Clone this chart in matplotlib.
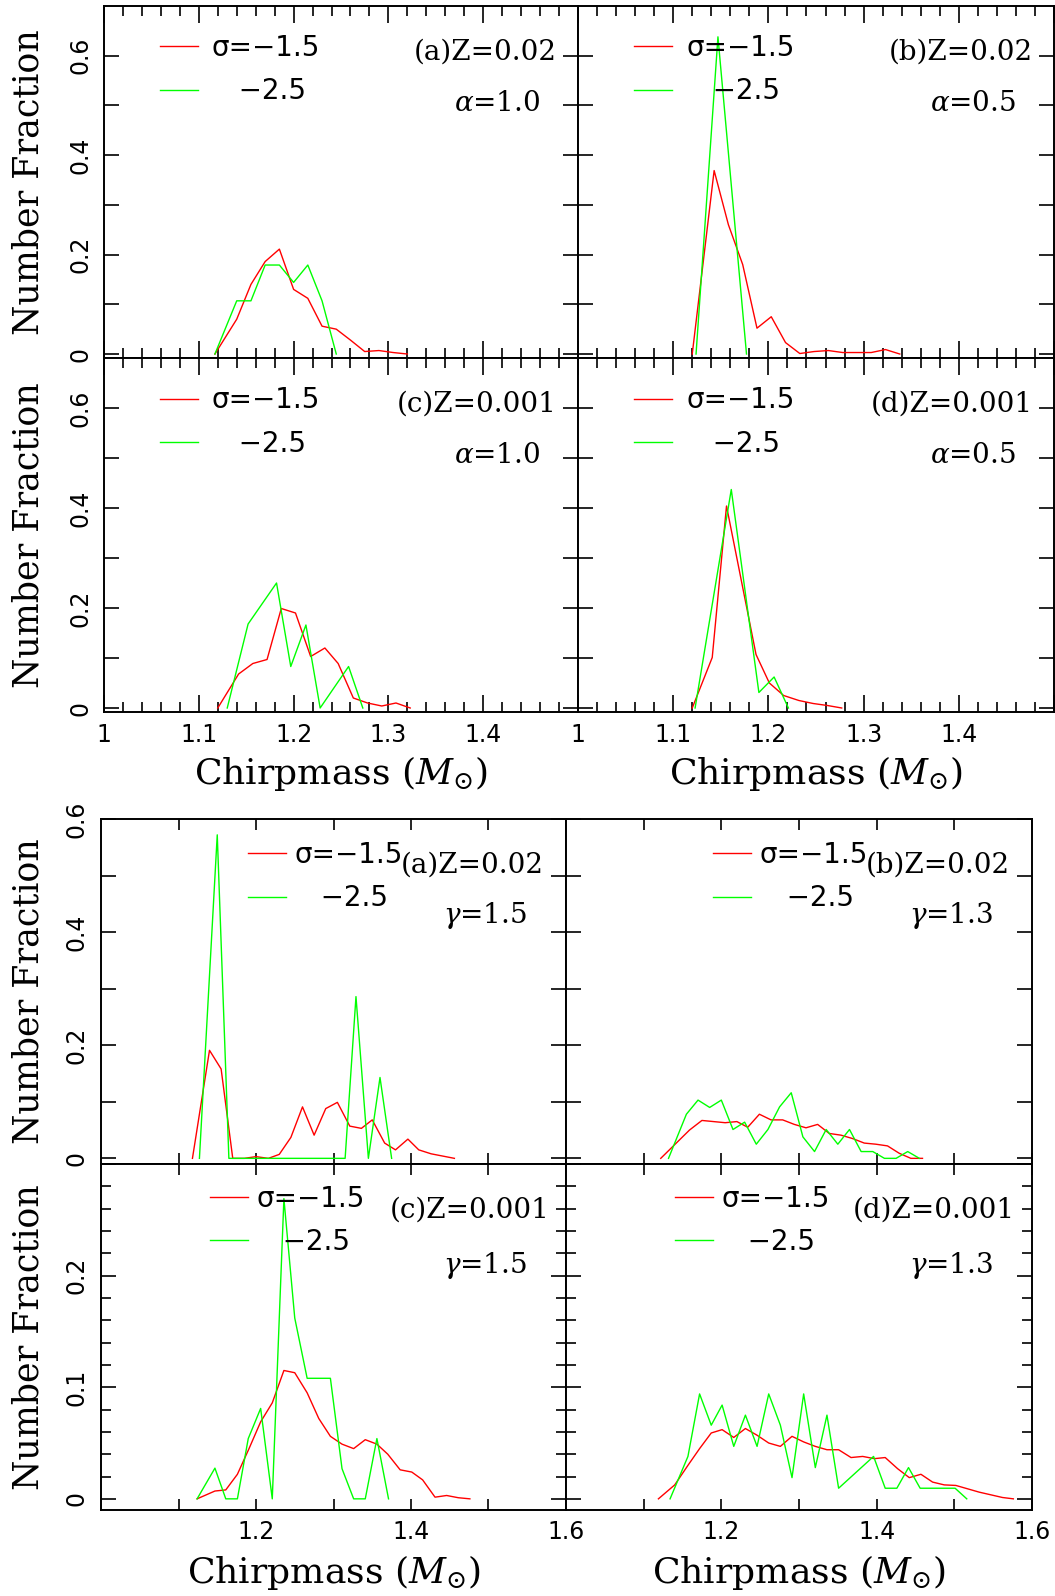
import matplotlib
matplotlib.use("Agg")
import matplotlib.pyplot as plt

plt.rcParams["mathtext.fontset"] = "dejavuserif"
plt.rcParams["font.family"] = ["DejaVu Sans"]

RED = "#ff0000"
GREEN = "#00ff00"

# ---- common envelope parameter alpha (upper block) ----
alpha_a_red_x = [1.117, 1.140, 1.155, 1.170, 1.185, 1.200, 1.215, 1.230, 1.245, 1.260, 1.275, 1.290, 1.305, 1.320]
alpha_a_red_y = [0.0, 0.070, 0.140, 0.186, 0.211, 0.130, 0.112, 0.056, 0.050, 0.028, 0.005, 0.007, 0.003, 0.0]
alpha_a_grn_x = [1.117, 1.140, 1.155, 1.170, 1.185, 1.200, 1.215, 1.230, 1.245]
alpha_a_grn_y = [0.0, 0.107, 0.107, 0.179, 0.179, 0.144, 0.179, 0.107, 0.0]

alpha_b_red_x = [1.120, 1.143, 1.158, 1.173, 1.188, 1.203, 1.218, 1.233, 1.248, 1.263, 1.278, 1.293, 1.308, 1.323, 1.338]
alpha_b_red_y = [0.0, 0.369, 0.260, 0.180, 0.052, 0.075, 0.023, 0.001, 0.005, 0.007, 0.003, 0.003, 0.003, 0.009, 0.0]
alpha_b_grn_x = [1.124, 1.147, 1.177]
alpha_b_grn_y = [0.0, 0.638, 0.0]

alpha_c_red_x = [1.120, 1.142, 1.157, 1.172, 1.187, 1.202, 1.218, 1.233, 1.247, 1.263, 1.278, 1.293, 1.308, 1.323]
alpha_c_red_y = [0.0, 0.068, 0.089, 0.097, 0.199, 0.190, 0.103, 0.120, 0.089, 0.020, 0.010, 0.004, 0.010, 0.0]
alpha_c_grn_x = [1.130, 1.152, 1.182, 1.197, 1.213, 1.228, 1.258, 1.273]
alpha_c_grn_y = [0.0, 0.168, 0.250, 0.083, 0.166, 0.0, 0.083, 0.0]

alpha_d_red_x = [1.120, 1.141, 1.156, 1.187, 1.201, 1.216, 1.232, 1.247, 1.262, 1.277]
alpha_d_red_y = [0.0, 0.101, 0.404, 0.107, 0.050, 0.025, 0.015, 0.009, 0.005, 0.0]
alpha_d_grn_x = [1.123, 1.161, 1.190, 1.206, 1.221]
alpha_d_grn_y = [0.0, 0.437, 0.031, 0.062, 0.0]

# ---- gamma prescription (lower block) ----
gamma_a_red_x = [1.118, 1.140, 1.155, 1.170, 1.185, 1.200, 1.216, 1.230, 1.245, 1.260, 1.275, 1.290,
                 1.305, 1.321, 1.336, 1.350, 1.366, 1.380, 1.396, 1.410, 1.426, 1.441, 1.456]
gamma_a_red_y = [0.0, 0.191, 0.158, 0.0, 0.0, 0.003, 0.0, 0.007, 0.037, 0.091, 0.041, 0.088,
                 0.099, 0.057, 0.053, 0.068, 0.027, 0.015, 0.034, 0.015, 0.008, 0.004, 0.0]
gamma_a_grn_x = [1.127, 1.150, 1.165, 1.315, 1.329, 1.345, 1.360, 1.375]
gamma_a_grn_y = [0.0, 0.572, 0.0, 0.0, 0.286, 0.0, 0.143, 0.0]

gamma_b_red_x = [1.122, 1.159, 1.175, 1.190, 1.205, 1.220, 1.234, 1.249, 1.264, 1.279, 1.294,
                 1.309, 1.324, 1.339, 1.354, 1.369, 1.384, 1.399, 1.414, 1.429, 1.444, 1.459]
gamma_b_red_y = [0.0, 0.050, 0.067, 0.065, 0.063, 0.065, 0.055, 0.078, 0.068, 0.068, 0.060,
                 0.054, 0.060, 0.044, 0.041, 0.035, 0.027, 0.025, 0.022, 0.009, 0.0, 0.0]
gamma_b_grn_x = [1.132, 1.155, 1.170, 1.185, 1.200, 1.215, 1.230, 1.245, 1.260, 1.275, 1.290,
                 1.305, 1.320, 1.335, 1.350, 1.365, 1.380, 1.395, 1.410, 1.425, 1.440, 1.455]
gamma_b_grn_y = [0.0, 0.078, 0.103, 0.090, 0.103, 0.051, 0.064, 0.025, 0.051, 0.091, 0.116,
                 0.038, 0.012, 0.051, 0.025, 0.051, 0.012, 0.012, 0.0, 0.0, 0.012, 0.0]

gamma_c_red_x = [1.124, 1.147, 1.161, 1.176, 1.191, 1.206, 1.221, 1.236, 1.250, 1.266, 1.281, 1.296,
                 1.311, 1.326, 1.341, 1.356, 1.370, 1.386, 1.401, 1.415, 1.431, 1.446, 1.461, 1.476]
gamma_c_red_y = [0.0, 0.007, 0.008, 0.022, 0.045, 0.069, 0.086, 0.115, 0.113, 0.095, 0.072, 0.056,
                 0.049, 0.045, 0.053, 0.049, 0.040, 0.026, 0.024, 0.017, 0.0015, 0.003, 0.001, 0.0]
gamma_c_grn_x = [1.124, 1.147, 1.161, 1.176, 1.190, 1.206, 1.221, 1.236, 1.250, 1.266, 1.281,
                 1.296, 1.311, 1.326, 1.341, 1.356, 1.371]
gamma_c_grn_y = [0.0, 0.0275, 0.0, 0.0, 0.054, 0.081, 0.0, 0.269, 0.162, 0.108, 0.108,
                 0.108, 0.027, 0.0, 0.0, 0.054, 0.0]

gamma_d_red_x = [1.119, 1.140, 1.157, 1.172, 1.187, 1.201, 1.216, 1.231, 1.246, 1.261, 1.276,
                 1.291, 1.306, 1.321, 1.336, 1.351, 1.367, 1.382, 1.397, 1.411, 1.427, 1.442,
                 1.457, 1.472, 1.487, 1.502, 1.517, 1.532, 1.547, 1.562, 1.576]
gamma_d_red_y = [0.0, 0.0125, 0.030, 0.045, 0.059, 0.062, 0.055, 0.063, 0.057, 0.050, 0.047,
                 0.056, 0.051, 0.047, 0.044, 0.044, 0.037, 0.038, 0.036, 0.037, 0.027, 0.019,
                 0.022, 0.015, 0.0125, 0.012, 0.009, 0.006, 0.0036, 0.0012, 0.0]
gamma_d_grn_x = [1.134, 1.157, 1.172, 1.187, 1.201, 1.216, 1.231, 1.246, 1.261, 1.276, 1.291,
                 1.306, 1.321, 1.336, 1.351, 1.396, 1.411, 1.426, 1.441, 1.456, 1.501, 1.516]
gamma_d_grn_y = [0.0, 0.038, 0.094, 0.066, 0.084, 0.047, 0.075, 0.047, 0.094, 0.066, 0.019,
                 0.094, 0.028, 0.075, 0.0095, 0.038, 0.0095, 0.0095, 0.028, 0.0095, 0.0095, 0.0]

legend_labels = ["σ=−1.5", "   −2.5"]
alpha_tags = ["(a)Z=0.02", "(b)Z=0.02", "(c)Z=0.001", "(d)Z=0.001"]
alpha_vals = [r"$\alpha$=1.0", r"$\alpha$=0.5", r"$\alpha$=1.0", r"$\alpha$=0.5"]
gamma_tags = ["(a)Z=0.02", "(b)Z=0.02", "(c)Z=0.001", "(d)Z=0.001"]
gamma_vals = [r"$\gamma$=1.5", r"$\gamma$=1.3", r"$\gamma$=1.5", r"$\gamma$=1.3"]

W, H = 1055, 1596
fig = plt.figure(figsize=(W / 100, H / 100), dpi=100)


def box(x0, y0, x1, y1):
    return [x0 / W, 1 - y1 / H, (x1 - x0) / W, (y1 - y0) / H]


def panel(ax, rx, ry, gx, gy, tag, val, leg_xy, tag_xy, val_xy, textpad=0.5):
    r, = ax.plot(rx, ry, color=RED, lw=1.0)
    g, = ax.plot(gx, gy, color=GREEN, lw=1.0)
    ax.legend([r, g], legend_labels, loc="upper left", bbox_to_anchor=leg_xy,
              frameon=False, fontsize=20, handlelength=1.37, handletextpad=textpad,
              labelspacing=0.55, borderpad=0, borderaxespad=0)
    ax.text(tag_xy[0], tag_xy[1], tag, transform=ax.transAxes, ha="right", va="center",
            family="DejaVu Serif", fontsize=20)
    ax.text(val_xy[0], val_xy[1], val, transform=ax.transAxes, ha="right", va="center",
            family="DejaVu Serif", fontsize=20)
    for s in ax.spines.values():
        s.set_linewidth(1.4)
    ax.tick_params(which="both", direction="in", top=True, right=True, width=1.2,
                   labelsize=17)


def ylabel(ax, xpos):
    ax.set_ylabel("Number Fraction", family="DejaVu Serif", fontsize=25)
    ax.yaxis.set_label_coords(xpos, 0.5)


def xlabel(ax, ypos):
    ax.set_xlabel(r"Chirpmass $(M_{\odot})$", family="DejaVu Serif", fontsize=26)
    ax.xaxis.set_label_coords(0.5, ypos)


# upper block
top_boxes = [box(104, 6, 578, 358), box(578, 6, 1054, 358),
             box(104, 358, 578, 712), box(578, 358, 1054, 712)]
top_data = [(alpha_a_red_x, alpha_a_red_y, alpha_a_grn_x, alpha_a_grn_y),
            (alpha_b_red_x, alpha_b_red_y, alpha_b_grn_x, alpha_b_grn_y),
            (alpha_c_red_x, alpha_c_red_y, alpha_c_grn_x, alpha_c_grn_y),
            (alpha_d_red_x, alpha_d_red_y, alpha_d_grn_x, alpha_d_grn_y)]
for i, (b, d) in enumerate(zip(top_boxes, top_data)):
    ax = fig.add_axes(b)
    panel(ax, *d, alpha_tags[i], alpha_vals[i], (0.118, 0.92), (0.955, 0.869), (0.92, 0.724))
    ax.set_xlim(1.0, 1.5)
    ax.set_ylim(-0.008, 0.70)
    ax.set_xticks([1.0, 1.1, 1.2, 1.3, 1.4, 1.5])
    ax.set_xticks([1.0 + 0.02 * k for k in range(26)], minor=True)
    ax.set_yticks([0, 0.2, 0.4, 0.6])
    ax.set_yticks([0.1, 0.3, 0.5], minor=True)
    ax.tick_params(axis="x", which="major", length=12)
    ax.tick_params(axis="x", which="minor", length=7)
    ax.tick_params(axis="y", which="both", length=11)
    if i >= 2:
        ax.set_xticklabels(["1", "1.1", "1.2", "1.3", "1.4", ""])
        ax.tick_params(axis="x", pad=8)
        xlabel(ax, -0.12)
    else:
        ax.set_xticklabels([])
    if i % 2 == 0:
        ax.set_yticklabels(["0", "0.2", "0.4", "0.6"], rotation=90, va="center")
        ax.tick_params(axis="y", pad=8)
        ylabel(ax, -0.124)
    else:
        ax.set_yticklabels([])

# lower block
low_boxes = [box(101, 819, 566, 1164), box(566, 819, 1032, 1164),
             box(101, 1164, 566, 1510), box(566, 1164, 1032, 1510)]
low_data = [(gamma_a_red_x, gamma_a_red_y, gamma_a_grn_x, gamma_a_grn_y),
            (gamma_b_red_x, gamma_b_red_y, gamma_b_grn_x, gamma_b_grn_y),
            (gamma_c_red_x, gamma_c_red_y, gamma_c_grn_x, gamma_c_grn_y),
            (gamma_d_red_x, gamma_d_red_y, gamma_d_grn_x, gamma_d_grn_y)]
for i, (b, d) in enumerate(zip(low_boxes, low_data)):
    ax = fig.add_axes(b)
    if i < 2:
        leg, tag_xy, val_xy = (0.316, 0.936), (0.953, 0.866), (0.916, 0.72)
    else:
        leg, tag_xy, val_xy = (0.234, 0.94), (0.964, 0.866), (0.916, 0.708)
    panel(ax, *d, gamma_tags[i], gamma_vals[i], leg, tag_xy, val_xy, textpad=0.3)
    ax.set_xlim(1.0, 1.6)
    ax.set_xticks([1.2, 1.4, 1.6])
    ax.set_xticks([1.1, 1.3, 1.5], minor=True)
    ax.tick_params(axis="x", which="both", length=8)
    if i < 2:
        ax.set_ylim(-0.01, 0.6)
        ax.set_yticks([0, 0.2, 0.4, 0.6])
        ax.set_yticks([0.1, 0.3, 0.5], minor=True)
        ax.tick_params(axis="y", which="both", length=11)
        ylab = ["0", "0.2", "0.4", "0.6"]
        ax.set_xticklabels([])
    else:
        ax.set_ylim(-0.01, 0.3)
        ax.set_yticks([0, 0.1, 0.2, 0.3])
        ax.set_yticks([0.02 * k for k in range(16)], minor=True)
        ax.tick_params(axis="y", which="major", length=11)
        ax.tick_params(axis="y", which="minor", length=7)
        ylab = ["0", "0.1", "0.2", ""]
        ax.set_xticklabels(["1.2", "1.4", "1.6"])
        ax.tick_params(axis="x", pad=7)
        xlabel(ax, -0.124)
    if i % 2 == 0:
        ax.set_yticklabels(ylab, rotation=90, va="center")
        ax.tick_params(axis="y", pad=9)
        ylabel(ax, -0.12)
    else:
        ax.set_yticklabels([])

fig.savefig("out.png", dpi=100)
